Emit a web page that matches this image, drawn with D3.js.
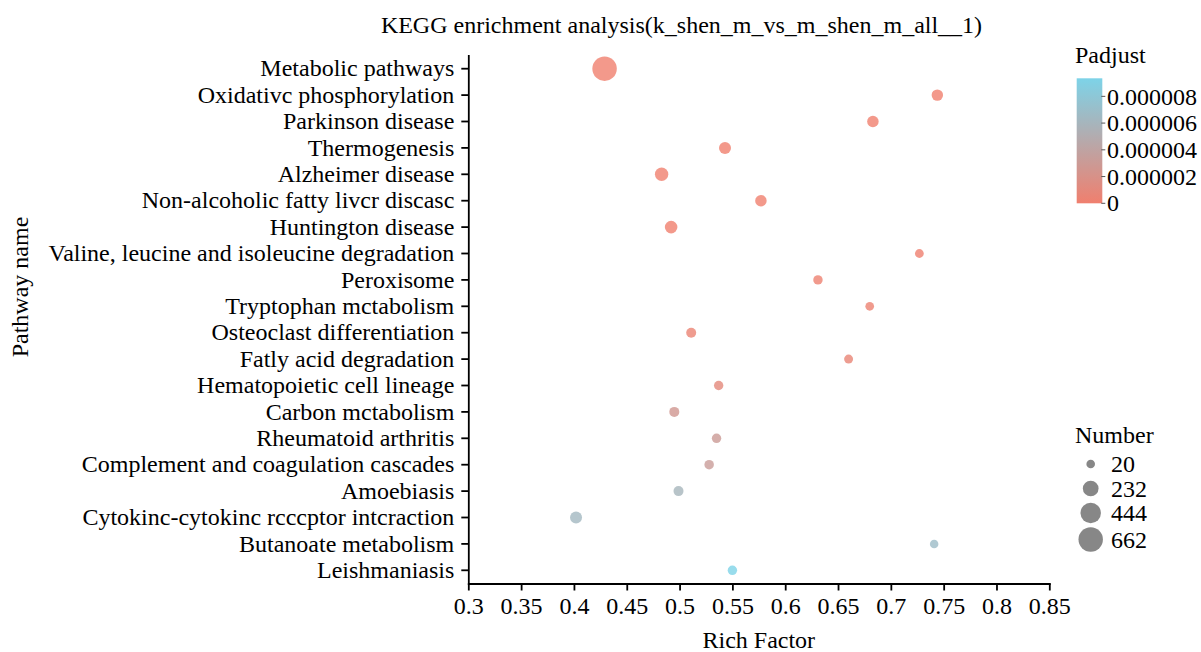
<!DOCTYPE html>
<html>
<head>
<meta charset="utf-8">
<script src="https://cdn.jsdelivr.net/npm/d3@7"></script>
<style>
  body { margin: 0; background: #fff; }
  svg { font-family: "Liberation Serif", "Times New Roman", serif; }
  .axis path, .axis line { stroke: #000; stroke-width: 1.8px; }
  .axis text { font-size: 24px; fill: #000; font-family: "Liberation Serif", "Times New Roman", serif; }
</style>
</head>
<body>
<script>
// pathways, top to bottom
var pathways = [
  "Metabolic pathways",
  "Oxidativc phosphorylation",
  "Parkinson disease",
  "Thermogenesis",
  "Alzheimer disease",
  "Non-alcoholic fatty livcr discasc",
  "Huntington disease",
  "Valine, leucine and isoleucine degradation",
  "Peroxisome",
  "Tryptophan mctabolism",
  "Osteoclast differentiation",
  "Fatly acid degradation",
  "Hematopoietic cell lineage",
  "Carbon mctabolism",
  "Rheumatoid arthritis",
  "Complement and coagulation cascades",
  "Amoebiasis",
  "Cytokinc-cytokinc rcccptor intcraction",
  "Butanoate metabolism",
  "Leishmaniasis"
];
var richFactor = [0.429, 0.744, 0.683, 0.543, 0.483, 0.577, 0.492, 0.727, 0.631, 0.680,
                  0.511, 0.660, 0.537, 0.495, 0.535, 0.528, 0.499, 0.402, 0.741, 0.550];
var geneNumber = [665, 90, 92, 106, 150, 92, 124, 24, 38, 22,
                  52, 28, 38, 52, 38, 40, 52, 106, 18, 38];
var padjust = [0.0, 0.0, 0.0, 0.0, 0.0, 0.0, 0.0, 0.1e-6, 0.2e-6, 0.3e-6,
               0.4e-6, 0.6e-6, 1.0e-6, 2.6e-6, 3.0e-6, 3.2e-6, 6.0e-6, 6.3e-6, 6.8e-6, 9.3e-6];

var xTicks = [0.3, 0.35, 0.4, 0.45, 0.5, 0.55, 0.6, 0.65, 0.7, 0.75, 0.8, 0.85];
var padTicks = [0, 0.000002, 0.000004, 0.000006, 0.000008];
var padTickLabels = ["0", "0.000002", "0.000004", "0.000006", "0.000008"];
var sizeBreaks = [20, 232, 444, 662];

var W = 1201, H = 652,
    plot = {left: 468.3, right: 1049.3, top: 55.5, bottom: 583.5},
    lowCol = "#F07F6E", highCol = "#7DD3E8";

var data = pathways.map(function(p, i) {
  return {name: p, rich: richFactor[i], num: geneNumber[i], p: padjust[i]};
});

var xSc = d3.scaleLinear().domain([0.3, 0.85]).range([plot.left, plot.right]),
    ySc = d3.scaleBand().domain(pathways).range([plot.top, plot.bottom]),
    colSc = d3.scaleLinear().domain([0, 9.35e-6]).range([lowCol, highCol]).clamp(true),
    areaSc = d3.scaleLinear().domain([20, 662]).range([18.5, 149]);

function rad(n) { return Math.sqrt(areaSc(n)); }

var svg = d3.select("body").append("svg")
  .attr("width", W).attr("height", H);

svg.append("text")
  .attr("x", 681.5).attr("y", 33)
  .attr("text-anchor", "middle")
  .attr("font-size", "24px")
  .text("KEGG enrichment analysis(k_shen_m_vs_m_shen_m_all__1)");

// axes
svg.append("g")
  .attr("class", "axis")
  .attr("transform", "translate(0," + plot.bottom + ")")
  .call(d3.axisBottom(xSc).tickValues(xTicks).tickFormat(function(d) { return d; })
    .tickSize(7).tickSizeOuter(0).tickPadding(6));

svg.append("g")
  .attr("class", "axis")
  .attr("transform", "translate(" + plot.left + ",0)")
  .call(d3.axisLeft(ySc).tickSize(7).tickSizeOuter(0).tickPadding(7));

svg.selectAll(".axis .domain").attr("stroke-linecap", "square");

svg.append("text")
  .attr("x", (plot.left + plot.right) / 2).attr("y", 648)
  .attr("text-anchor", "middle")
  .attr("font-size", "24px")
  .text("Rich Factor");

svg.append("text")
  .attr("transform", "translate(28,287) rotate(-90)")
  .attr("text-anchor", "middle")
  .attr("font-size", "24px")
  .text("Pathway name");

// points
svg.append("g").selectAll("circle")
  .data(data)
  .enter().append("circle")
  .attr("cx", function(d) { return xSc(d.rich); })
  .attr("cy", function(d) { return ySc(d.name) + ySc.bandwidth() / 2; })
  .attr("r", function(d) { return rad(d.num); })
  .attr("fill", function(d) { return colSc(d.p); })
  .attr("fill-opacity", 0.8);

// colour legend
var bar = {x: 1076.7, y: 78.3, w: 25.6, h: 125};
var grad = svg.append("defs").append("linearGradient")
  .attr("id", "padGrad")
  .attr("x1", 0).attr("y1", 1).attr("x2", 0).attr("y2", 0);
grad.append("stop").attr("offset", "0%").attr("stop-color", lowCol);
grad.append("stop").attr("offset", "100%").attr("stop-color", highCol);

svg.append("text")
  .attr("x", 1075).attr("y", 63)
  .attr("font-size", "24px")
  .text("Padjust");

svg.append("rect")
  .attr("x", bar.x).attr("y", bar.y)
  .attr("width", bar.w).attr("height", bar.h)
  .attr("fill", "url(#padGrad)");

var barSc = d3.scaleLinear().domain(colSc.domain()).range([bar.y + bar.h, bar.y]);

var pTick = svg.append("g").selectAll("g")
  .data(padTicks)
  .enter().append("g")
  .attr("transform", function(d) { return "translate(0," + barSc(d) + ")"; });
pTick.append("line")
  .attr("x1", bar.x + bar.w - 1).attr("x2", bar.x + bar.w + 3)
  .attr("stroke", "#555").attr("stroke-width", 1);
pTick.append("text")
  .attr("x", 1107).attr("dy", "0.34em")
  .attr("font-size", "24px")
  .text(function(d, i) { return padTickLabels[i]; });

// size legend
svg.append("text")
  .attr("x", 1075).attr("y", 443)
  .attr("font-size", "24px")
  .text("Number");

var sY = [464, 488.5, 513, 539.5];
var sItem = svg.append("g").selectAll("g")
  .data(sizeBreaks)
  .enter().append("g")
  .attr("transform", function(d, i) { return "translate(0," + sY[i] + ")"; });
sItem.append("circle")
  .attr("cx", 1090.7)
  .attr("r", function(d) { return rad(d); })
  .attr("fill", "#7a7a7a").attr("fill-opacity", 0.9);
sItem.append("text")
  .attr("x", 1111).attr("dy", "0.34em")
  .attr("font-size", "24px")
  .text(function(d) { return d; });
</script>
</body>
</html>
